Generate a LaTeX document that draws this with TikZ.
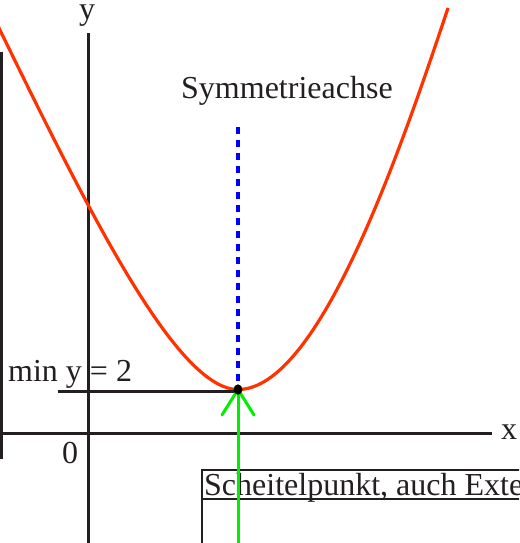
\documentclass[tikz,border=0pt]{standalone}
\usepackage{fontspec}
\setmainfont{Liberation Serif}
\definecolor{ink}{HTML}{231F20}
\definecolor{curvered}{HTML}{FF3300}
\definecolor{axisblue}{HTML}{0000FF}
\definecolor{arrowgreen}{HTML}{00EE00}
\begin{document}
\begin{tikzpicture}[x=1pt,y=-1pt,
  txt/.style={font=\fontsize{32}{38}\selectfont, text=ink, inner sep=0pt, anchor=base west},
  axisline/.style={draw=ink, line width=3pt},
  thinline/.style={draw=ink, line width=1.4pt},
  curve/.style={draw=curvered, line width=3.2pt, line join=round},
  symline/.style={draw=axisblue, line width=3.4pt, dash pattern=on 7pt off 6pt},
  greenline/.style={draw=arrowgreen, line width=3pt, line cap=round}]
\useasboundingbox (0,0) rectangle (519,543);
\clip (0,0) rectangle (519,543);

% named points
\coordinate (V) at (238,389.5);
\coordinate (yTop) at (88,33);   \coordinate (yBot) at (88,546);
\coordinate (xL) at (-2,433.5);  \coordinate (xR) at (492,433.5);
\coordinate (fTop) at (1.5,52);  \coordinate (fBot) at (1.5,459);
\coordinate (minL) at (58,391);  \coordinate (minR) at (238,391);
\coordinate (symTop) at (238,127);
\coordinate (gBot) at (238,546);
\coordinate (armL) at (222,415); \coordinate (armR) at (254,415);
\coordinate (bTL) at (202,470);  \coordinate (bTR) at (522,470);
\coordinate (bBL) at (202,546);
\coordinate (uL) at (203,499);   \coordinate (uR) at (522,499);
\coordinate (cL) at (-2,26);     \coordinate (cR) at (448,8);

% text box
\node[txt] (sp) at (204,495) {Scheitelpunkt, auch Exte};
\draw[axisline, line width=2.4pt] (bBL) -- (bTL) -- (bTR);
\draw[thinline] (uL) -- (uR);

% labels
\node[txt] (sym) at (181,98) {Symmetrieachse};
\node[txt] (miny) at (8,381) {min y = 2};
\node[txt] (zero) at (62,463) {0};
\node[txt] (xlab) at (501,439) {x};
\node[txt, text height=15pt] (ylab) at (79,20) {y};

% axes and frame line
\draw[axisline] (yBot) -- (yTop);
\draw[axisline] (xL) -- (xR);
\draw[axisline] (fTop) -- (fBot);

% parabola
\draw[curve] (cL) .. controls (93,220.75) and (178,389.5) .. (V)
                  .. controls (318,389.5) and (398,158) .. (cR);

% min line
\draw[axisline] (minL) -- (minR);

% symmetry axis
\draw[symline] (symTop) -- (V);

% green arrow
\draw[greenline] (gBot) -- (V);
\draw[greenline] (armL) -- (V) -- (armR);

% vertex dot
\fill[black] (V) ellipse [x radius=4.4pt, y radius=5.2pt];
\end{tikzpicture}
\end{document}
